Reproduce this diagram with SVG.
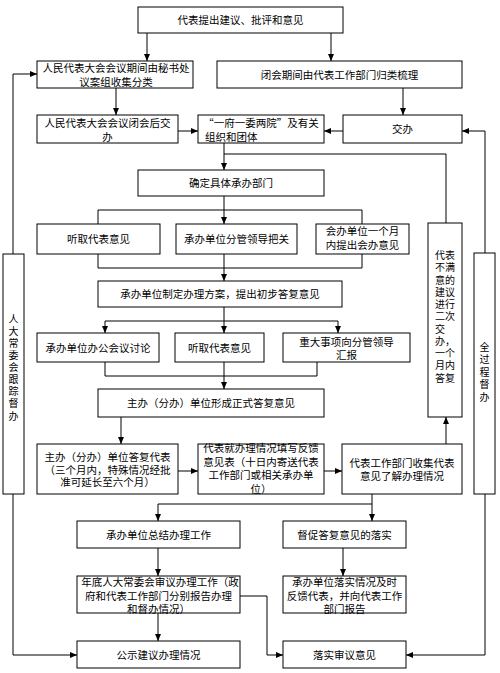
<svg xmlns="http://www.w3.org/2000/svg" width="500" height="673" viewBox="0 0 500 673">
<defs>
<marker id="ah" markerWidth="7" markerHeight="6" refX="7" refY="3" orient="auto" markerUnits="userSpaceOnUse"><path d="M0,0 L7,3 L0,6 z" fill="#000"/></marker>
<style>
rect{fill:#fff;stroke:#000;stroke-width:1}
text{font-family:"Noto Sans CJK SC","Liberation Sans",sans-serif;font-size:10.5px;fill:#000;text-anchor:middle}
.l{text-anchor:start}
.v{font-size:10px}
.vt{font-size:10px;writing-mode:vertical-rl;text-anchor:start}
#edges path{fill:none;stroke:#000;stroke-width:1}
.a{marker-end:url(#ah)}
</style>
</defs>
<rect x="0" y="0" width="500" height="673" style="fill:#fff;stroke:none"/>
<g id="edges">
<path class="a" d="M147,33 V61"/>
<path class="a" d="M331,33 V61"/>
<path class="a" d="M116,88 V115"/>
<path class="a" d="M403,88 V115"/>
<path class="a" d="M178,131 H198"/>
<path class="a" d="M343,131 H324"/>
<path class="a" d="M485,253 V131 H462"/>
<path class="a" d="M13,254 V74 H37"/>
<path class="a" d="M224,143 V170"/>
<path d="M446,223 V154 H224"/>
<path class="a" d="M224,196 V224"/>
<path d="M98,224 V210 H362 V224"/>
<path d="M98,254 V268 H362 V254"/>
<path class="a" d="M224,254 V281"/>
<path d="M224,307 V321"/>
<path class="a" d="M224,321 H105 V333"/>
<path class="a" d="M224,321 H338 V333"/>
<path class="a" d="M224,321 V333"/>
<path d="M105,362 V376 H317 V362"/>
<path class="a" d="M224,362 V389"/>
<path class="a" d="M121,417 V444"/>
<path class="a" d="M178,471 H198"/>
<path class="a" d="M324,471 H342"/>
<path class="a" d="M446,444 V417"/>
<path class="a" d="M372,494 V504 H158 V521"/>
<path class="a" d="M372,504 V521"/>
<path class="a" d="M158,548 V576"/>
<path class="a" d="M343,548 V576"/>
<path class="a" d="M158,613 V641"/>
<path class="a" d="M240,596 H267 V655 H283"/>
<path class="a" d="M13,494 V655 H77"/>
<path class="a" d="M485,494 V655 H406"/>
</g>
<g id="n1"><rect x="138" y="7" width="205" height="26"/><text x="240.5" y="24">代表提出建议、批评和意见</text></g>
<g id="n2"><rect x="37" y="61" width="156" height="27"/><text x="116" y="72">人民代表大会会议期间由秘书处</text><text x="116" y="86">议案组收集分类</text></g>
<g id="n3"><rect x="217" y="61" width="245" height="27"/><text x="339.5" y="79">闭会期间由代表工作部门归类梳理</text></g>
<g id="n4"><rect x="37" y="115" width="141" height="28"/><text x="107.5" y="127">人民代表大会会议闭会后交</text><text x="107.5" y="141">办</text></g>
<g id="n5"><rect x="198" y="115" width="126" height="28"/><text x="261" y="127">“一府一委两院”及有关</text><text class="l" x="205" y="141">组织和团体</text></g>
<g id="n6"><rect x="343" y="115" width="119" height="28"/><text x="402.5" y="133">交办</text></g>
<g id="n7"><rect x="138" y="170" width="186" height="26"/><text x="231" y="187">确定具体承办部门</text></g>
<g id="n8"><rect x="37" y="224" width="123" height="30"/><text x="98.5" y="243">听取代表意见</text></g>
<g id="n9"><rect x="176" y="224" width="121" height="30"/><text x="236.5" y="243">承办单位分管领导把关</text></g>
<g id="n10"><rect x="316" y="224" width="93" height="30"/><text x="362.5" y="235">会办单位一个月</text><text x="362.5" y="249">内提出会办意见</text></g>
<g id="n11"><rect x="98" y="281" width="244" height="26"/><text x="220" y="298">承办单位制定办理方案，提出初步答复意见</text></g>
<g id="n12"><rect x="37" y="333" width="122" height="29"/><text x="98" y="351.5">承办单位办公会议讨论</text></g>
<g id="n13"><rect x="175" y="333" width="89" height="29"/><text x="219.5" y="351.5">听取代表意见</text></g>
<g id="n14"><rect x="283" y="333" width="127" height="29"/><text x="346.5" y="346">重大事项向分管领导</text><text x="346.5" y="359">汇报</text></g>
<g id="n15"><rect x="98" y="389" width="226" height="28"/><text x="211" y="407">主办（分办）单位形成正式答复意见</text></g>
<g id="n16"><rect x="37" y="444" width="141" height="50"/><text x="107.5" y="461">主办（分办）单位答复代表</text><text x="107.5" y="473.5">（三个月内，特殊情况经批</text><text x="107.5" y="486">准可延长至六个月）</text></g>
<g id="n17"><rect x="198" y="444" width="126" height="50"/><text x="261" y="452">代表就办理情况填写反馈</text><text x="261" y="465.5">意见表（十日内寄送代表</text><text x="261" y="479">工作部门或相关承办单</text><text x="261" y="492.5">位）</text></g>
<g id="n18"><rect x="342" y="444" width="120" height="50"/><text x="402" y="467">代表工作部门收集代表</text><text x="402" y="480">意见了解办理情况</text></g>
<g id="n19"><rect x="77" y="521" width="163" height="27"/><text x="158.5" y="538.5">承办单位总结办理工作</text></g>
<g id="n20"><rect x="283" y="521" width="123" height="27"/><text x="344.5" y="538.5">督促答复意见的落实</text></g>
<g id="n21"><rect x="77" y="576" width="163" height="37"/><text x="160" y="586">年底人大常委会审议办理工作（政</text><text x="158.5" y="600">府和代表工作部门分别报告办理</text><text x="158.5" y="613">和督办情况）</text></g>
<g id="n22"><rect x="283" y="576" width="123" height="37"/><text x="344.5" y="586">承办单位落实情况及时</text><text x="344.5" y="600">反馈代表，并向代表工作</text><text x="344.5" y="613">部门报告</text></g>
<g id="n23"><rect x="77" y="641" width="163" height="27"/><text x="158.5" y="658.5">公示建议办理情况</text></g>
<g id="n24"><rect x="283" y="641" width="123" height="27"/><text x="344.5" y="658.5">落实审议意见</text></g>
<g id="n25"><rect x="3" y="254" width="21" height="240"/>
<text class="vt" x="13.5" y="314" letter-spacing="2.1">人大常委会跟踪督办</text></g>
<g id="n26"><rect x="428" y="223" width="34" height="194"/>
<text class="v l"><tspan x="435" y="259">代表</tspan><tspan x="435" dy="12.25">不满</tspan><tspan x="435" dy="12.25">意的</tspan><tspan x="435" dy="12.25">建议</tspan><tspan x="435" dy="12.25">进行</tspan><tspan x="435" dy="12.25">二次</tspan><tspan x="435" dy="12.25">交</tspan><tspan x="435" dy="12.25">办，</tspan><tspan x="435" dy="12.25">一个</tspan><tspan x="435" dy="12.25">月内</tspan><tspan x="435" dy="12.25">答复</tspan></text></g>
<g id="n27"><rect x="474" y="253" width="21" height="241"/>
<text class="vt" x="484.5" y="342" letter-spacing="2.5">全过程督办</text></g>
</svg>
